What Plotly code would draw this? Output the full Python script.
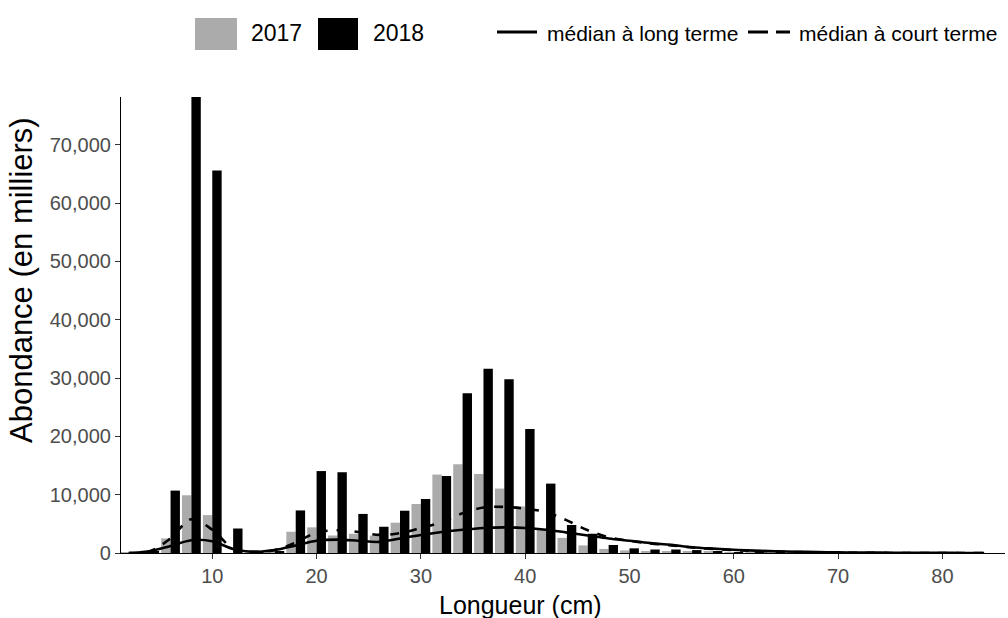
import plotly.graph_objects as go

# Length classes (cm), 2 cm bins
longueur = [2, 4, 6, 8, 10, 12, 14, 16, 18, 20, 22, 24, 26, 28, 30, 32, 34, 36,
            38, 40, 42, 44, 46, 48, 50, 52, 54, 56, 58, 60, 62, 64, 66, 68, 70]

# Abundance (thousands) by length class
abond_2017 = [100, 400, 2500, 9900, 6500, 0, 100, 600, 3650, 4400, 3000, 3300,
              3000, 5200, 8400, 13450, 15200, 13550, 11050, 8000, 4000, 2600,
              1300, 700, 450, 300, 250, 200, 250, 100, 80, 50, 40, 30, 20]
abond_2018 = [50, 200, 10700, 78200, 65600, 4200, 100, 300, 7300, 14050, 13850,
              6700, 4500, 7250, 9260, 13200, 27400, 31600, 29800, 21250, 11900,
              4800, 3300, 1370, 800, 600, 600, 500, 300, 150, 100, 50, 30, 20, 10]

# Reference medians
longueur_med = [2, 4, 6, 8, 10, 12, 14, 16, 18, 20, 22, 24, 26, 28, 30, 32, 34,
                36, 38, 40, 42, 44, 46, 48, 50, 52, 54, 56, 58, 60, 62, 64, 66,
                68, 70, 72, 74, 76, 78, 80, 82, 84]
median_long = [0, 300, 1200, 2200, 2000, 700, 200, 500, 1300, 2100, 2300, 2100,
               1900, 2500, 3100, 3600, 4000, 4300, 4400, 4300, 4000, 3500, 3000,
               2500, 2100, 1700, 1400, 1000, 750, 550, 400, 300, 220, 160, 110,
               80, 60, 40, 30, 20, 10, 5]
median_court = [0, 300, 2500, 5800, 4000, 800, 200, 500, 1800, 3500, 3900, 3600,
                3100, 3400, 4300, 5300, 6800, 7800, 7900, 7600, 7000, 5600, 3900,
                2700, 2100, 1650, 1300, 950, 700, 500, 350, 250, 170, 110, 70,
                40, 20, 0, 0, 0, 0, 0]

x_ticks = [10, 20, 30, 40, 50, 60, 70, 80]
y_ticks = [0, 10000, 20000, 30000, 40000, 50000, 60000, 70000]

GRIS = "#ababab"
FONT = "Liberation Sans, Arial, sans-serif"

W, H = 1008, 618
ML, MR, MT, MB = 121, 3, 97, 65
PW, PH = W - ML - MR, H - MT - MB


def px(x):
    return (x - ML) / PW


def py(y):
    return (H - MB - y) / PH


fig = go.Figure()
fig.add_trace(go.Bar(x=longueur, y=abond_2017, name="2017",
                     marker=dict(color=GRIS, line=dict(width=0))))
fig.add_trace(go.Bar(x=longueur, y=abond_2018, name="2018",
                     marker=dict(color="black", line=dict(width=0))))
fig.add_trace(go.Scatter(x=longueur_med, y=median_long, mode="lines",
                         name="médian à long terme",
                         line=dict(color="black", width=2.6, shape="spline")))
fig.add_trace(go.Scatter(x=longueur_med, y=median_court, mode="lines",
                         name="médian à court terme",
                         line=dict(color="black", width=2.6, dash="dash",
                                   shape="spline")))

axis_common = dict(showgrid=False, zeroline=False, showline=True,
                   linecolor="black", linewidth=1.2, ticks="outside",
                   ticklen=5, tickcolor="#333333", tickwidth=1,
                   tickfont=dict(family=FONT, size=20, color="#4d4d4d"))

fig.update_layout(
    width=W, height=H,
    margin=dict(l=ML, r=MR, t=MT, b=MB),
    paper_bgcolor="white", plot_bgcolor="white",
    barmode="group", bargap=0.1, bargroupgap=0,
    showlegend=False,
    xaxis=dict(range=[1.25, 86.0], tickvals=x_ticks, **axis_common),
    yaxis=dict(range=[0, 78200], tickvals=y_ticks, tickformat=",",
               **axis_common),
)

# Axis titles
fig.add_annotation(text="Longueur (cm)", xref="paper", yref="paper",
                   x=px(520), y=py(605), showarrow=False,
                   xanchor="center", yanchor="middle",
                   font=dict(family=FONT, size=25, color="black"))
fig.add_annotation(text="Abondance (en milliers)", xref="paper", yref="paper",
                   x=px(21), y=py(280), showarrow=False, textangle=-90,
                   xanchor="center", yanchor="middle",
                   font=dict(family=FONT, size=31, color="black"))

# Legend drawn at the top of the figure
shapes = [
    dict(type="rect", xref="paper", yref="paper", x0=px(195), x1=px(237),
         y0=py(50), y1=py(18), fillcolor=GRIS, line=dict(width=0)),
    dict(type="rect", xref="paper", yref="paper", x0=px(318), x1=px(358),
         y0=py(50), y1=py(18), fillcolor="black", line=dict(width=0)),
    dict(type="line", xref="paper", yref="paper", x0=px(497), x1=px(537),
         y0=py(32), y1=py(32), line=dict(color="black", width=3)),
    dict(type="line", xref="paper", yref="paper", x0=px(748), x1=px(790),
         y0=py(32), y1=py(32),
         line=dict(color="black", width=3, dash="20px,8px")),
]
fig.update_layout(shapes=shapes)

for txt, x0, size in [("2017", 249, 23), ("2018", 371, 23),
                      ("médian à long terme", 545, 21),
                      ("médian à court terme", 797, 21)]:
    fig.add_annotation(text=txt, xref="paper", yref="paper", x=px(x0),
                       y=py(33), showarrow=False, xanchor="left",
                       yanchor="middle",
                       font=dict(family=FONT, size=size, color="black"))

fig.write_html("out.html")
